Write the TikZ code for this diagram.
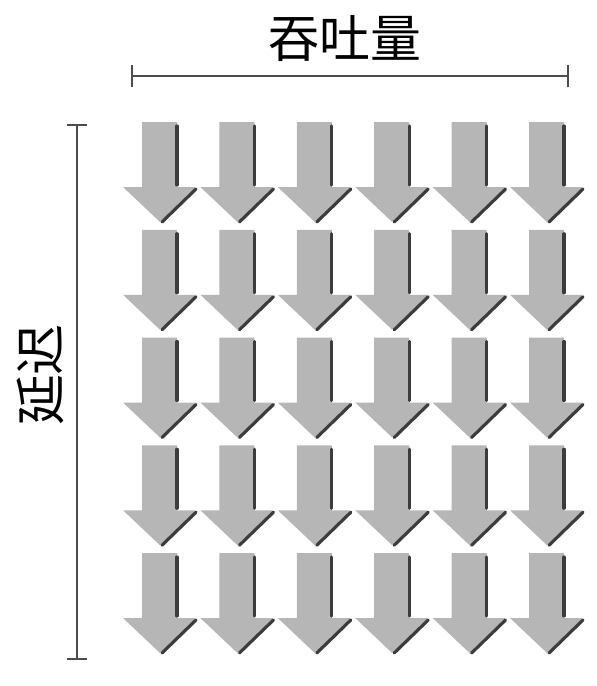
\documentclass[tikz,border=0pt]{standalone}
\usepackage{fontspec}
\newfontfamily\cjk{Noto Sans CJK SC}
\definecolor{flecha}{HTML}{B6B6B6}
\definecolor{sombra}{HTML}{3C3C3C}
\tikzset{
    flechabox/.style={fill=flecha, draw=none},
    sombrabox/.style={sombra, line width=1.8pt, line cap=round},
    regla/.style={gray!60!black, line width=1.1pt},
    etiqueta/.style={font=\cjk\fontsize{29}{29}\selectfont, inner sep=0pt}
}
\begin{document}
\begin{tikzpicture}[x=0.02cm, y=-0.02cm]
        \useasboundingbox (0,0) rectangle (596,686);
        % Eje horizontal: rendimiento
        \node[etiqueta] (rend) at (345,38) {吞吐量};
        \coordinate (hizq) at (132,76);
        \coordinate (hder) at (568,76);
        \draw[regla] (hizq) -- (hder);
        \draw[regla] ([yshift=-0.23cm]hizq) -- ([yshift=0.23cm]hizq);
        \draw[regla] ([yshift=-0.23cm]hder) -- ([yshift=0.23cm]hder);

        % Eje vertical: latencia
        \node[etiqueta, rotate=90] (lat) at (40,375) {延迟};
        \coordinate (varr) at (77,125);
        \coordinate (vaba) at (77,659);
        \draw[regla] (varr) -- (vaba);
        \draw[regla] ([xshift=-0.2cm]varr) -- ([xshift=0.2cm]varr);
        \draw[regla] ([xshift=-0.2cm]vaba) -- ([xshift=0.2cm]vaba);

        % Matriz de flechas
        \foreach \i in {0,...,5} {
            \foreach \j in {0,...,4} {
                \begin{scope}[shift={(160+77.4*\i,122+107.75*\j)}]
                    \fill[flechabox] (-18,0) -- (17,0) -- (17,65) -- (36,65)
                        -- (0,100) -- (-37,65) -- (-18,65) -- cycle;
                    \draw[sombrabox] (17,4) -- (17,63);
                    \draw[sombrabox] (36,67) -- (2,100);
                \end{scope}
            }
        }
    \end{tikzpicture}
\end{document}
